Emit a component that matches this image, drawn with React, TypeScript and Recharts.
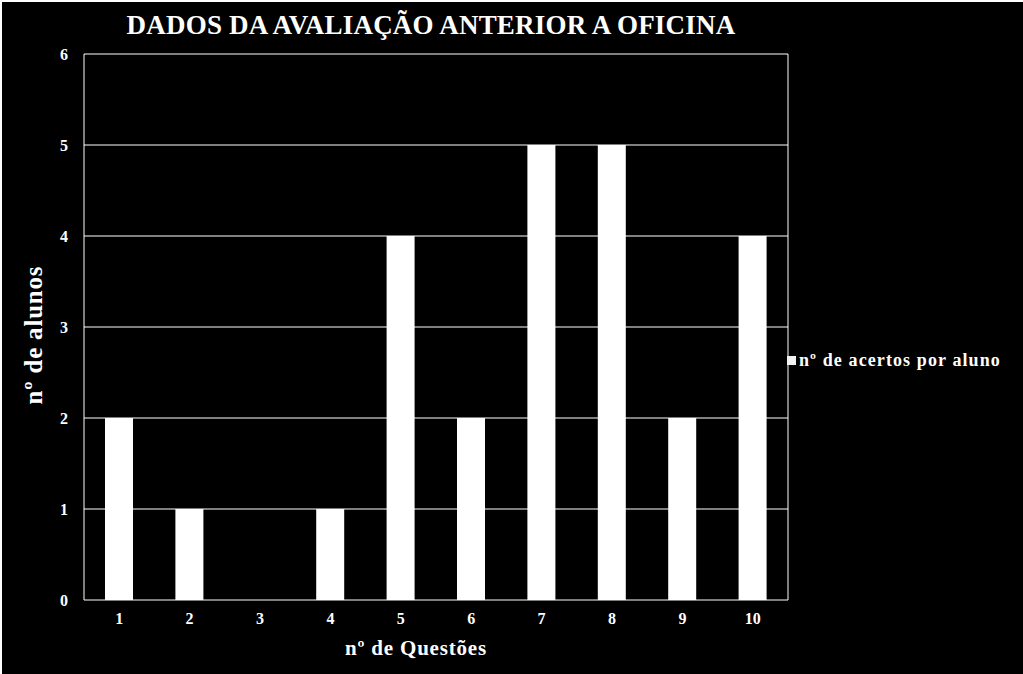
import { BarChart, Bar, XAxis, YAxis, CartesianGrid, Legend } from "recharts"

const questoes = ["1", "2", "3", "4", "5", "6", "7", "8", "9", "10"]
const acertos = [2, 1, 0, 1, 4, 2, 5, 5, 2, 4]
const yTicks = [0, 1, 2, 3, 4, 5, 6]

const data = questoes.map((q, i) => ({ questao: q, acertos: acertos[i] }))

const FONT = "'Liberation Serif', 'DejaVu Serif', serif"

function LegendBox() {
  return (
    <div style={{ display: "flex", alignItems: "center", fontFamily: FONT, fontWeight: "bold", fontSize: 18, letterSpacing: 1.1, color: "#fff", whiteSpace: "nowrap" }}>
      <span style={{ display: "inline-block", width: 9, height: 9, background: "#f2f2f2", marginRight: 3 }} />
      nº de acertos por aluno
    </div>
  )
}

export default function App() {
  return (
    <div
      style={{
        position: "fixed",
        left: 0,
        top: 0,
        width: 1023,
        height: 674,
        background: "#000",
        boxSizing: "border-box",
        borderLeft: "2px solid #fff",
        borderTop: "2px solid #fff",
        overflow: "hidden",
      }}
    >
      <div style={{ position: "absolute", left: -2, top: -2 }}>
        <BarChart width={1023} height={674} data={data} margin={{ top: 54, right: 5, left: 0, bottom: 0 }}>
          <text x={431} y={34} textAnchor="middle" fill="#fff" fontFamily={FONT} fontWeight="bold" fontSize={27} letterSpacing={0.2}>
            DADOS DA AVALIAÇÃO ANTERIOR A OFICINA
          </text>
          <text
            x={42}
            y={335}
            transform="rotate(-90 42 335)"
            textAnchor="middle"
            fill="#fff"
            fontFamily={FONT}
            fontWeight="bold"
            fontSize={25}
            letterSpacing={0.8}
          >
            nº de alunos
          </text>
          <text x={416} y={655} textAnchor="middle" fill="#fff" fontFamily={FONT} fontWeight="bold" fontSize={21} letterSpacing={0.8}>
            nº de Questões
          </text>
          <CartesianGrid
            stroke="#fff"
            strokeWidth={1}
            verticalCoordinatesGenerator={({ offset }: any) => [offset.left, offset.left + offset.width]}
          />
          <XAxis
            dataKey="questao"
            height={74}
            tickLine={false}
            axisLine={false}
            tickSize={0}
            tickMargin={13}
            tick={{ fill: "#fff", fontFamily: FONT, fontWeight: "bold", fontSize: 16 }}
          />
          <YAxis
            width={84}
            domain={[0, 6]}
            ticks={yTicks}
            tickLine={false}
            axisLine={false}
            tickSize={0}
            tickMargin={16}
            tick={{ fill: "#fff", fontFamily: FONT, fontWeight: "bold", fontSize: 16 }}
          />
          <Legend
            layout="vertical"
            align="right"
            verticalAlign="middle"
            content={<LegendBox />}
            wrapperStyle={{ left: 787, top: 350, width: 230 }}
          />
          <Bar dataKey="acertos" name="nº de acertos por aluno" fill="#fff" barSize={28} isAnimationActive={false} />
        </BarChart>
      </div>
    </div>
  )
}
